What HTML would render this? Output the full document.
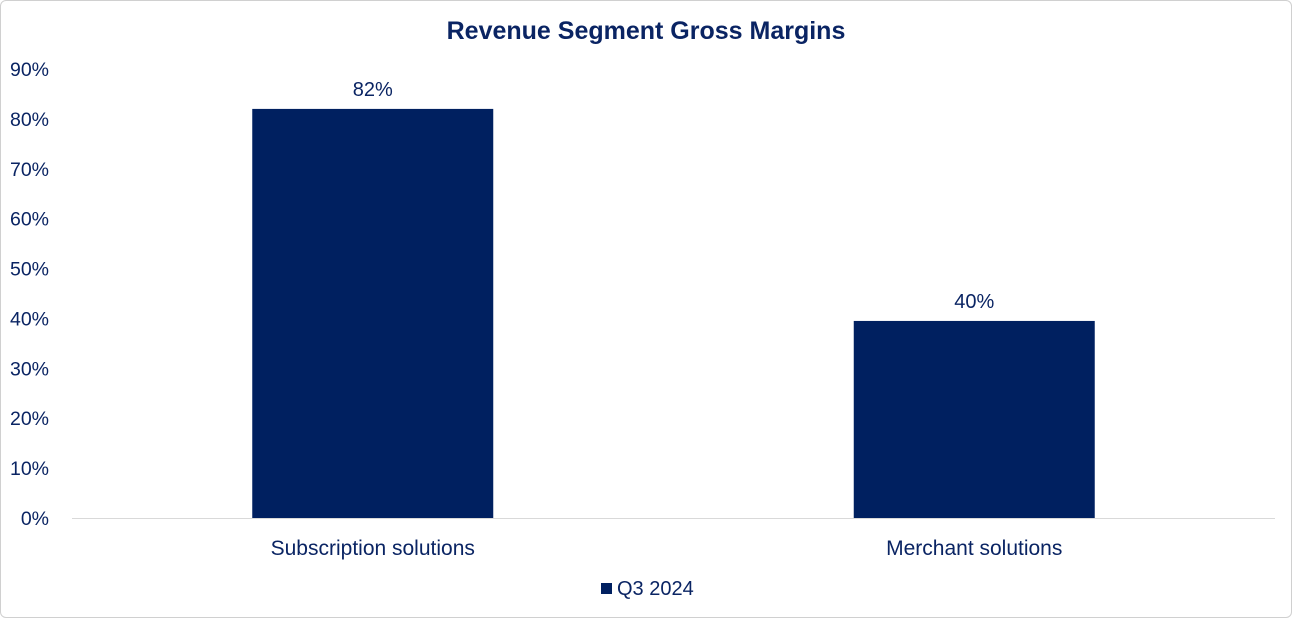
<!DOCTYPE html>
<html><head><meta charset="utf-8"><style>
html,body{margin:0;padding:0;background:#fff;}
body{width:1292px;height:618px;overflow:hidden;font-family:"Liberation Sans",sans-serif;}
#frame{position:absolute;left:0;top:0;width:1290px;height:616px;border:1px solid #d0d0d0;border-radius:6px;}
</style></head><body>
<div id="frame"></div>
<svg id="chart" width="1292" height="618" style="position:absolute;left:0;top:0">
<text x="646" y="39" text-anchor="middle" font-size="25" font-weight="bold" fill="#0a2463">Revenue Segment Gross Margins</text>
<g id="yaxis"></g><g id="bars"></g><g id="xaxis"></g>
<rect x="601" y="583" width="11" height="11" fill="#002060"/>
<text x="617" y="595" font-size="20" fill="#0a2463">Q3 2024</text>
</svg>
<script>
const categories=["Subscription solutions","Merchant solutions"];
const values=[82,39.5];
const valueLabels=["82%","40%"];
const yTicks=[0,10,20,30,40,50,60,70,80,90];
const ns="http://www.w3.org/2000/svg";
const y0=518,yTop=69,yMax=90,left=72,right=1275;
const y=v=>y0-(v/yMax)*(y0-yTop);
const band=(right-left)/categories.length;
const x=i=>left+band*i+band/2;
const barW=241;
function mk(t,a,p){const e=document.createElementNS(ns,t);for(const k in a)e.setAttribute(k,a[k]);p.appendChild(e);return e;}
const ya=document.getElementById('yaxis');
yTicks.forEach(t=>{
 const e=mk('text',{x:49,y:y(t)+7,'text-anchor':'end','font-size':19.5,fill:'#0a2463'},ya);
 e.textContent=t+'%';
 
 
});
const xa=document.getElementById('xaxis');
const ax=mk('line',{x1:left,x2:right,y1:y0+0.5,y2:y0+0.5,stroke:'#d9d9d9','stroke-width':1},xa);


const bg=document.getElementById('bars');
categories.forEach((c,i)=>{
 const r=mk('rect',{x:x(i)-barW/2,y:y(values[i]),width:barW,height:y0-y(values[i]),fill:'#002060'},bg);
 
 
 const l=mk('text',{x:x(i),y:y(values[i])-13,'text-anchor':'middle','font-size':20,fill:'#0a2463'},bg);
 l.textContent=valueLabels[i];
 
 
 const t=mk('text',{x:x(i),y:555,'text-anchor':'middle','font-size':21,fill:'#0a2463'},xa);
 t.textContent=c;
 
 
});
</script>
</body></html>
